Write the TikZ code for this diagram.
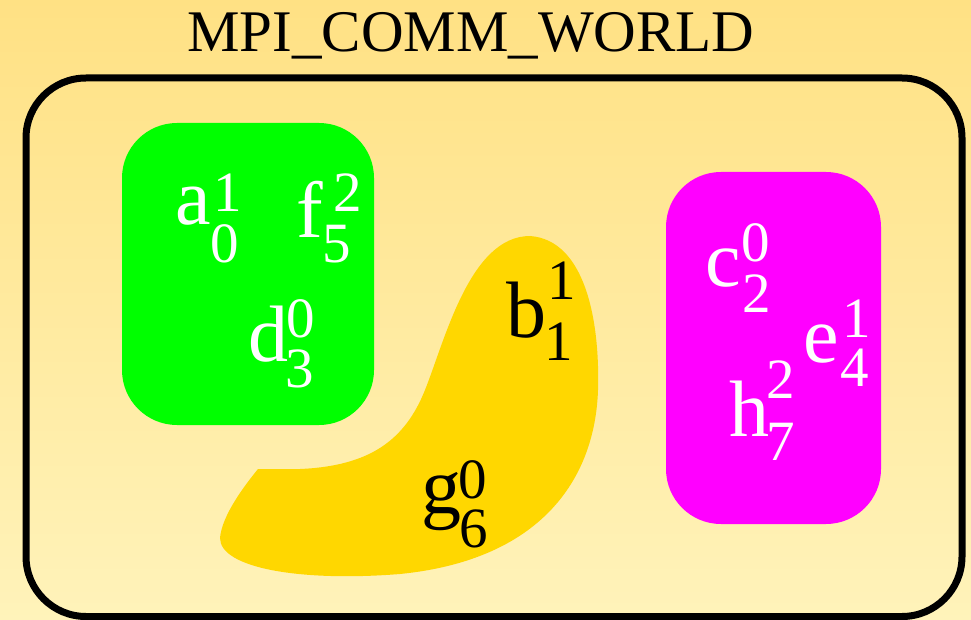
\documentclass[tikz,border=0pt]{standalone}
\usepackage{fontspec}
\setmainfont{Liberation Serif}
\definecolor{bgtop}{RGB}{255,225,132}
\definecolor{bgbot}{RGB}{255,243,186}
\definecolor{grp1}{RGB}{0,255,0}
\definecolor{grp2}{RGB}{255,0,255}
\definecolor{grp3}{RGB}{255,215,0}
\newcommand\dig{\fontsize{57}{57}\selectfont}
\newcommand\lbl[7]{\rlap{\hspace*{#4pt}\raisebox{#5pt}{\dig #2}}\rlap{\hspace*{#6pt}\raisebox{#7pt}{\dig #3}}#1}
\tikzset{
  lab/.style={inner sep=0pt, anchor=base west, font=\fontsize{80}{80}\selectfont},
  wl/.style={lab, text=white},
  bl/.style={lab, text=black},
  grpbox/.style={rounded corners=55pt},
}
\begin{document}
\begin{tikzpicture}[x=1pt,y=-1pt]
\useasboundingbox (0,0) rectangle (971,620);
\shade[top color=bgtop, bottom color=bgbot] (0,0) rectangle (971,620);
\node[inner sep=0pt, anchor=base, font=\fontsize{59}{59}\selectfont] (title) at (471,52) {MPI\_COMM\_WORLD};
\draw[line width=7pt, rounded corners=60pt] (26,78) rectangle (962,616.5);
% groups
\fill[grp1, grpbox] (122,123) rectangle (374,425);
\fill[grp2, grpbox] (666,172) rectangle (881,524);
\fill[grp3] (258,469) -- (300,469)
  .. controls (370,466) and (405,440) .. (425,390)
  .. controls (445,340) and (470,236) .. (530,236)
  .. controls (585,240) and (600,320) .. (598,390)
  .. controls (595,480) and (540,560) .. (400,574)
  .. controls (300,582) and (220,568) .. (220,538)
  .. controls (222,515) and (245,485) .. (258,469) -- cycle;
% labels
\node[wl] (a) at (175,225) {\lbl{a}{1}{0}{38}{13}{35}{-38}};
\node[wl] (f) at (296,237) {\lbl{f}{2}{5}{37}{25}{26}{-25}};
\node[wl] (d) at (248,361) {\lbl{d}{0}{3}{38}{24}{37}{-26}};
\node[bl] (b) at (506,337) {\lbl{b}{1}{1}{41}{38}{38}{-23}};
\node[bl] (g) at (421,513) {\lbl{g}{0}{6}{37}{15}{38}{-34}};
\node[wl] (c) at (705,287) {\lbl{c}{0}{2}{36}{25}{37}{-25}};
\node[wl] (e) at (803,362) {\lbl{e}{1}{4}{39}{25}{37}{-24}};
\node[wl] (h) at (729,436) {\lbl{h}{2}{7}{37}{38}{37}{-24}};
\end{tikzpicture}
\end{document}
